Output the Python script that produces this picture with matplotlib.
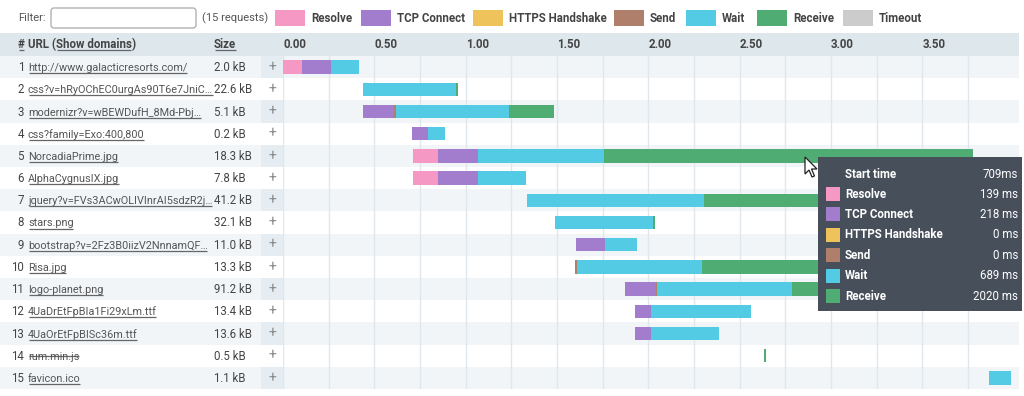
import matplotlib.pyplot as plt
from matplotlib.patches import Rectangle, FancyBboxPatch, Polygon
from matplotlib.transforms import blended_transform_factory

plt.rcParams['font.family'] = ['Roboto', 'DejaVu Sans']

# ---- data ----
phases = ['Resolve', 'TCP Connect', 'HTTPS Handshake', 'Send', 'Wait', 'Receive', 'Timeout']
colors = ['#f598c4', '#a27ccd', '#efc35b', '#b07f6b', '#54cbe4', '#4fad73', '#cccccc']

nums = [1, 2, 3, 4, 5, 6, 7, 8, 9, 10, 11, 12, 13, 14, 15]
urls = ['http://www.galacticresorts.com/', 'css?v=hRyOChEC0urgAs90T6e7JniC…',
        'modernizr?v=wBEWDufH_8Md-Pbj…', 'css?family=Exo:400,800', 'NorcadiaPrime.jpg',
        'AlphaCygnusIX.jpg', 'jquery?v=FVs3ACwOLIVInrAI5sdzR2j…', 'stars.png',
        'bootstrap?v=2Fz3B0iizV2NnnamQF…', 'Risa.jpg', 'logo-planet.png',
        '4UaDrEtFpBIa1Fi29xLm.ttf', '4UaOrEtFpBISc36m.ttf', 'rum.min.js', 'favicon.ico']
sizes = ['2.0 kB', '22.6 kB', '5.1 kB', '0.2 kB', '18.3 kB', '7.8 kB', '41.2 kB', '32.1 kB',
         '11.0 kB', '13.3 kB', '91.2 kB', '13.4 kB', '13.6 kB', '0.5 kB', '1.1 kB']
blocked = [False, False, False, False, False, False, False, False,
           False, False, False, False, False, True, False]

# timings in ms
start =   [0, 438, 438, 708, 709, 709, 1336, 1491, 1602, 1600, 1872, 1927, 1927, 2633, 3864]
resolve = [104, 0, 0, 0, 139, 139, 0, 0, 0, 0, 0, 0, 0, 0, 0]
tcp =     [159, 0, 171, 86, 218, 218, 0, 0, 160, 0, 168, 86, 86, 0, 0]
https =   [0, 0, 0, 0, 0, 0, 0, 0, 0, 0, 0, 0, 0, 0, 0]
send =    [0, 0, 8, 0, 0, 0, 0, 0, 0, 11, 7, 0, 0, 0, 0]
wait =    [151, 507, 622, 95, 689, 262, 968, 534, 174, 684, 739, 549, 373, 0, 121]
receive = [0, 11, 246, 0, 2020, 0, 960, 11, 0, 800, 230, 0, 0, 11, 0]
timeout = [0, 0, 0, 0, 0, 0, 0, 0, 0, 0, 0, 0, 0, 0, 0]

tick_vals = [0.0, 0.5, 1.0, 1.5, 2.0, 2.5, 3.0, 3.5]
grid_vals = [0.0, 0.25, 0.5, 0.75, 1.0, 1.25, 1.5, 1.75, 2.0, 2.25, 2.5, 2.75, 3.0, 3.25, 3.5, 3.75]
hover = 4  # row 5 shown in tooltip

# ---- layout ----
W, H = 1024, 396
ROW0, ROWH = 56, 22.2
TL_L, TL_R = 283, 1019
PX_PER_S = 182.7
FS = 8.3
FS_URL = 7.8
TXT = '#444444'
legend_x = [275, 361, 473, 614, 686, 757, 843]

fig = plt.figure(figsize=(W / 100, H / 100), dpi=100)
ax0 = fig.add_axes([0, 0, 1, 1])
ax0.set_xlim(0, W)
ax0.set_ylim(H, 0)
ax0.axis('off')
r = fig.canvas.get_renderer()


def uline(t, y, color='#666666'):
    bb = t.get_window_extent(r)
    ax0.plot([bb.x0 + 0.5, bb.x1 - 0.5], [y, y], color=color, lw=0.9, solid_capstyle='butt')


# header band + row bands
ax0.add_patch(Rectangle((0, 33), TL_R, ROW0 - 33, color='#dee7ec', lw=0))
for i in range(15):
    y = ROW0 + i * ROWH
    if i % 2 == 0:
        ax0.add_patch(Rectangle((0, y), TL_R, ROWH, color='#f1f5f8', lw=0))
        ax0.add_patch(Rectangle((261, y), 22, ROWH, color='#e6edf2', lw=0))

# top filter bar
ax0.text(18, 18, 'Filter:', fontsize=8, color='#555555', va='center')
ax0.add_patch(FancyBboxPatch((51, 8), 145, 20, boxstyle='round,pad=0,rounding_size=3',
                             fc='white', ec='#aaaaaa', lw=0.9))
ax0.text(202, 18, '(%d requests)' % len(nums), fontsize=8, color='#555555', va='center')
for lx, name, col in zip(legend_x, phases, colors):
    ax0.add_patch(Rectangle((lx, 10), 30, 16, color=col, lw=0))
    ax0.text(lx + 36, 18, name, fontsize=FS, color=TXT, fontweight='bold', va='center')

# header
hy = 48
t = ax0.text(18, hy, '#', fontsize=FS, color=TXT, fontweight='bold')
uline(t, hy + 2)
t = ax0.text(28, hy, 'URL (', fontsize=FS, color=TXT, fontweight='bold')
x1 = t.get_window_extent(r).x1
t = ax0.text(x1, hy, 'Show domains', fontsize=FS, color=TXT, fontweight='bold')
uline(t, hy + 2)
x1 = t.get_window_extent(r).x1
ax0.text(x1, hy, ')', fontsize=FS, color=TXT, fontweight='bold')
t = ax0.text(214, hy, 'Size', fontsize=FS, color=TXT, fontweight='bold')
uline(t, hy + 2)

# table rows
for i in range(15):
    yb = ROW0 + (i + 0.5) * ROWH + 4
    ax0.text(24, yb, str(nums[i]), fontsize=FS, color=TXT, ha='right')
    t = ax0.text(28, yb, urls[i], fontsize=FS_URL, color='#555555')
    if blocked[i]:
        uline(t, yb - 3.5)
    else:
        uline(t, yb + 2)
    ax0.text(214, yb, sizes[i], fontsize=FS, color=TXT)
    ax0.text(272, yb - 4, '+', fontsize=10, color='#888888', ha='center', va='center')

# timeline axes
ax = fig.add_axes([TL_L / W, (H - (ROW0 + 15 * ROWH)) / H, (TL_R - TL_L) / W, 15 * ROWH / H])
ax.set_xlim(0, (TL_R - TL_L) / PX_PER_S)
ax.set_ylim(15.5, 0.5)
ax.axis('off')
ax.patch.set_alpha(0)
for g in grid_vals:
    ax.axvline(g, color='#dfe6ec', lw=1, zorder=0)

left = [s / 1000 for s in start]
for name, col, vals in zip(phases, colors, [resolve, tcp, https, send, wait, receive, timeout]):
    w = [v / 1000 for v in vals]
    ax.barh(nums, w, left=left, height=0.6, color=col, lw=0, zorder=2)
    left = [a + b for a, b in zip(left, w)]

tr = blended_transform_factory(ax.transData, ax0.transData)
for tv in tick_vals:
    ax.text(tv, 45, '%.2f' % tv, transform=tr, fontsize=FS, color=TXT, fontweight='bold',
            va='center', ha='left', clip_on=False)

# tooltip + cursor on top
ax2 = fig.add_axes([0, 0, 1, 1])
ax2.set_xlim(0, W)
ax2.set_ylim(H, 0)
ax2.axis('off')
ax2.patch.set_alpha(0)
ax2.add_patch(Rectangle((818, 157), 204, 154, color='#474f5b', lw=0))
ax2.text(845, 174, 'Start time', fontsize=FS, color='white', fontweight='bold', va='center')
ax2.text(1018, 174, '%dms' % start[hover], fontsize=FS, color='white', va='center', ha='right')
tip_vals = [resolve, tcp, https, send, wait, receive]
for k in range(6):
    y = 194 + k * 20.4
    ax2.add_patch(Rectangle((826, y - 7), 14, 14, color=colors[k], lw=0))
    ax2.text(845, y, phases[k], fontsize=FS, color='white', fontweight='bold', va='center')
    ax2.text(1018, y, '%d ms' % tip_vals[k][hover], fontsize=FS, color='white',
             va='center', ha='right')

cx, cy = 805, 157
cur = [(0, 0), (0, 17), (4, 13), (7, 20), (9.5, 19), (6.5, 12), (12, 12)]
ax2.add_patch(Polygon([(cx + a, cy + b) for a, b in cur], closed=True, fc='white',
                      ec='#222222', lw=0.9, zorder=5))

fig.savefig('out.png', dpi=100)
